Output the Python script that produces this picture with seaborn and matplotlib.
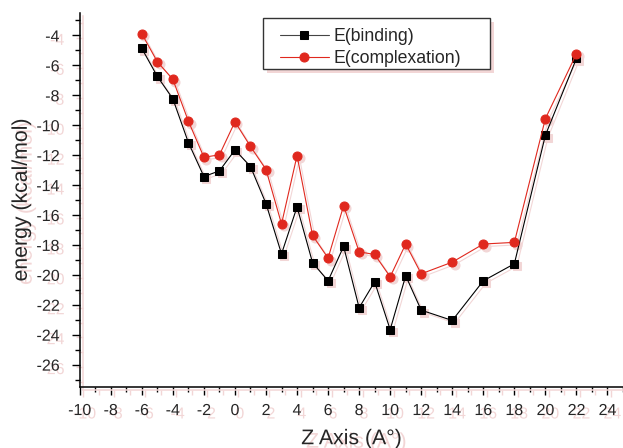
import pandas as pd
import seaborn as sns
import matplotlib
matplotlib.use("Agg")
import matplotlib.pyplot as plt
import matplotlib.patheffects as pe
from matplotlib.patches import Rectangle
from matplotlib.ticker import MultipleLocator
from matplotlib.transforms import offset_copy

z_axis = [-6, -5, -4, -3, -2, -1, 0, 1, 2, 3, 4, 5, 6, 7, 8, 9, 10, 11, 12, 14, 16, 18, 20, 22]
e_binding = [-4.87, -6.74, -8.24, -11.16, -13.43, -13.05, -11.65, -12.76, -15.24, -18.6,
             -15.46, -19.19, -20.4, -18.1, -22.2, -20.47, -23.66, -20.06, -22.36, -23.05,
             -20.4, -19.26, -10.67, -5.54]
e_complexation = [-3.89, -5.76, -6.94, -9.73, -12.14, -11.98, -9.77, -11.42, -12.96, -16.6,
                  -12.03, -17.37, -18.88, -15.38, -18.46, -18.64, -20.13, -17.94, -19.93, -19.15,
                  -17.94, -17.83, -9.56, -5.23]

df = pd.DataFrame({"z": z_axis, "binding": e_binding, "complexation": e_complexation})

sns.set_style("ticks")
plt.rcParams["font.family"] = ["Liberation Sans", "DejaVu Sans"]
plt.rcParams["axes.unicode_minus"] = False

shadow = "#f2d6d6"
red = "#e0281e"

fig = plt.figure(figsize=(6.23, 4.48), dpi=100)
ax = fig.add_axes([0.128, 0.136, 0.872, 0.835])

# pinkish drop shadows behind the curves
sh = offset_copy(ax.transData, fig=fig, x=2.5, y=-2.5, units="dots")
sns.lineplot(data=df, x="z", y="binding", ax=ax, color=shadow, marker="s", markersize=5.5,
             markeredgecolor=shadow, linewidth=0.8, transform=sh, legend=False, zorder=1)
sns.lineplot(data=df, x="z", y="complexation", ax=ax, color=shadow, marker="o", markersize=6.5,
             markeredgecolor=shadow, linewidth=0.8, transform=sh, legend=False, zorder=1)

sns.lineplot(data=df, x="z", y="binding", ax=ax, color="black", marker="s", markersize=5.5,
             markeredgecolor="black", linewidth=0.8, label="E(binding)", zorder=3)
sns.lineplot(data=df, x="z", y="complexation", ax=ax, color=red, marker="o", markersize=6.5,
             markeredgecolor=red, linewidth=0.8, label="E(complexation)", zorder=3)

ax.set_xlim(-10, 25)
ax.set_ylim(-27.5, -2.5)
ax.set_xticks(range(-10, 25, 2))
ax.set_yticks(range(-26, -3, 2))
ax.xaxis.set_minor_locator(MultipleLocator(1))
ax.yaxis.set_minor_locator(MultipleLocator(1))
ax.tick_params(which="major", direction="out", length=5.5, width=1, labelsize=11.5, color="black")
ax.tick_params(which="minor", direction="out", length=3.5, width=1, color="black")
ax.tick_params(axis="x", pad=6)
ax.tick_params(axis="y", pad=9)

sns.despine(ax=ax)
line_shadow = [pe.SimpleLineShadow(offset=(2.5, -2), shadow_color=shadow, alpha=1), pe.Normal()]
for s in ["left", "bottom"]:
    ax.spines[s].set_linewidth(1.1)
    ax.spines[s].set_color("black")
    ax.spines[s].set_path_effects(line_shadow)
for axis in [ax.xaxis, ax.yaxis]:
    for t in axis.get_major_ticks() + axis.get_minor_ticks():
        t.tick1line.set_path_effects(line_shadow)

txt_shadow = [pe.SimplePatchShadow(offset=(3.5, -2.5), shadow_rgbFace=shadow, alpha=1), pe.Normal()]
for lab in ax.get_xticklabels() + ax.get_yticklabels():
    lab.set_path_effects(txt_shadow)

ax.set_xlabel("Z Axis (A°)", fontsize=15.3, labelpad=8)
ax.set_ylabel("energy (kcal/mol)", fontsize=15.3, labelpad=4)
ax.xaxis.label.set_path_effects(txt_shadow)
ax.yaxis.label.set_path_effects(txt_shadow)

# legend box drawn by hand so its padding matches the original (wider on the right)
box = Rectangle((263 / 623, 1 - 69 / 448), 227 / 623, 51 / 448, transform=fig.transFigure,
                facecolor="white", edgecolor="#333333", linewidth=1.0, zorder=5)
box_shadow = Rectangle((267 / 623, 1 - 73 / 448), 227 / 623, 51 / 448, transform=fig.transFigure,
                       facecolor=shadow, edgecolor="none", zorder=4.5)
fig.patches.append(box_shadow)
fig.patches.append(box)

handles, labels = ax.get_legend_handles_labels()
if ax.get_legend() is not None:
    ax.get_legend().remove()
leg = fig.legend(handles, labels, loc="upper left", bbox_to_anchor=(280 / 623, 1 - 28 / 448),
                 borderaxespad=0, borderpad=0, frameon=False,
                 fontsize=12.7, handlelength=2.75, handletextpad=0.3, labelspacing=0.3)
leg.set_zorder(6)
leg.legend_handles[0].set_color("#444444")
leg.legend_handles[0].set_markerfacecolor("black")
leg.legend_handles[0].set_markeredgecolor("black")

fig.savefig("out.png", dpi=100)
